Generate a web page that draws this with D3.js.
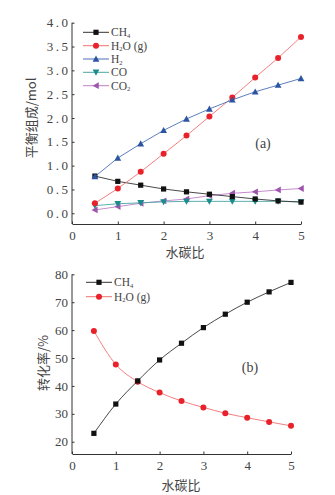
<!DOCTYPE html>
<html><head><meta charset="utf-8">
<script src="https://cdn.jsdelivr.net/npm/d3@7"></script>
<style>
body{margin:0;background:#fff;}
svg{display:block;}
</style></head>
<body>
<svg id="c" width="335" height="495"></svg>
<script>
// ---- data ----
const ratios = [0.5,1,1.5,2,2.5,3,3.5,4,4.5,5];
const aCH4 = [0.78,0.67,0.59,0.51,0.45,0.40,0.35,0.30,0.26,0.235];
const aH2O = [0.21,0.52,0.87,1.25,1.63,2.03,2.43,2.85,3.26,3.70];
const aH2  = [0.77,1.16,1.46,1.74,1.98,2.19,2.38,2.55,2.69,2.83];
const aCO  = [0.16,0.20,0.22,0.24,0.25,0.25,0.25,0.25,0.25,0.24];
const aCO2 = [0.07,0.14,0.21,0.26,0.30,0.37,0.42,0.45,0.49,0.52];
const bCH4 = [23.0,33.5,41.8,49.3,55.3,60.9,65.7,70.0,73.7,77.1];
const bH2O = [59.7,47.7,41.5,37.6,34.6,32.3,30.2,28.6,27.1,25.7];
const xTicks = [0,1,2,3,4,5];
const aYTicks = [0,0.5,1,1.5,2,2.5,3,3.5,4];
const bYTicks = [20,30,40,50,60,70,80];

const svg = d3.select("#c");
const numFont = "'Liberation Serif','DejaVu Serif',serif";
const cjkFont = "'Noto Sans CJK SC',sans-serif";
const axisColor = "#333";

function drawAxes(x, y, yTicks, fmt, spacing){
  const gx = svg.append("g").attr("transform", `translate(0,${y.range()[0]})`)
    .call(d3.axisBottom(x).tickValues(xTicks).tickSizeInner(-2.5).tickSizeOuter(0).tickPadding(7).tickFormat(d3.format("d")));
  const gy = svg.append("g").attr("transform", `translate(${x.range()[0]},0)`)
    .call(d3.axisLeft(y).tickValues(yTicks).tickSizeInner(-2.5).tickSizeOuter(0).tickPadding(4).tickFormat(fmt));
  gy.select(".domain").attr("d", `M0,${y.range()[0]}V${y(yTicks[yTicks.length-1])}`);
  [gx,gy].forEach(g=>{
    g.select(".domain").attr("stroke", axisColor).attr("stroke-width",1);
    g.selectAll(".tick line").attr("stroke", axisColor);
    g.selectAll("text").attr("font-family", numFont).attr("font-size", 13).attr("fill", "#444");
  });
  if (spacing) gy.selectAll("text").attr("letter-spacing", spacing).attr("dx", spacing);
}

function marker(g, type, cx, cy, color){
  if (type === "square") {
    g.append("rect").attr("x", cx-2.6).attr("y", cy-2.6).attr("width",5.2).attr("height",5.2).attr("fill",color);
  } else if (type === "circle") {
    g.append("circle").attr("cx",cx).attr("cy",cy).attr("r",3).attr("fill",color);
  } else {
    const s = 3.4;
    let pts;
    if (type === "up") pts = [[cx,cy-s],[cx+s,cy+s*0.8],[cx-s,cy+s*0.8]];
    else if (type === "down") pts = [[cx,cy+s],[cx+s,cy-s*0.8],[cx-s,cy-s*0.8]];
    else pts = [[cx-s,cy],[cx+s*0.8,cy-s],[cx+s*0.8,cy+s]];
    g.append("polygon").attr("points", pts.map(p=>p.join(",")).join(" ")).attr("fill",color);
  }
}

function drawSeries(x, y, vals, color, lineColor, type, curve){
  const g = svg.append("g");
  const line = d3.line().x((d,i)=>x(ratios[i])).y(d=>y(d)).curve(curve || d3.curveLinear);
  g.append("path").attr("d", line(vals)).attr("fill","none").attr("stroke", lineColor).attr("stroke-width",0.9);
  vals.forEach((v,i)=>marker(g, type, x(ratios[i]), y(v), color));
}

function legendItem(x0, y0, color, lineColor, type, parts){
  const g = svg.append("g");
  g.append("line").attr("x1",x0).attr("x2",x0+26).attr("y1",y0).attr("y2",y0).attr("stroke",lineColor).attr("stroke-width",1);
  marker(g, type, x0+13, y0, color);
  const t = g.append("text").attr("x", x0+28).attr("y", y0+4).attr("font-family", numFont).attr("font-size", 11.5).attr("fill","#444");
  parts.forEach(p=>{
    if (p.sub) t.append("tspan").attr("font-size",6.5).attr("dy",1.5).text(p.t);
    else t.append("tspan").attr("dy", p.up ? -1.5 : 0).text(p.t);
  });
}

// ---- chart (a) ----
const xa = d3.scaleLinear().domain([0,5]).range([72,301]);
const ya = d3.scaleLinear().domain([-0.225,4]).range([224,22.7]);
drawAxes(xa, ya, aYTicks, d3.format(".1f"), 2.5);

const cBlack="#111", cRed="#e8212b", cBlue="#2b55a3", cTeal="#1b8c8c", cPurple="#a055ad";
drawSeries(xa, ya, aCO2, cPurple, "#c080c8", "left");
drawSeries(xa, ya, aCO, cTeal, "#4aa6a6", "down");
drawSeries(xa, ya, aCH4, cBlack, "#333", "square");
drawSeries(xa, ya, aH2O, cRed, "#f07070", "circle");
drawSeries(xa, ya, aH2, cBlue, "#4a70b8", "up");

legendItem(83, 32.3, cBlack, "#333", "square", [{t:"CH"},{t:"4",sub:1}]);
legendItem(83, 45.7, cRed, "#f07070", "circle", [{t:"H"},{t:"2",sub:1},{t:"O (g)",up:1}]);
legendItem(83, 59, cBlue, "#4a70b8", "up", [{t:"H"},{t:"2",sub:1}]);
legendItem(83, 72.3, cTeal, "#4aa6a6", "down", [{t:"CO"}]);
legendItem(83, 85.7, cPurple, "#c080c8", "left", [{t:"CO"},{t:"2",sub:1}]);

svg.append("text").attr("x",263).attr("y",148).attr("text-anchor","middle")
  .attr("font-family",numFont).attr("font-size",14).attr("fill","#444").text("(a)");
svg.append("text").attr("transform","translate(36,118) rotate(-90)").attr("text-anchor","middle")
  .attr("font-family",cjkFont).attr("font-size",13).attr("fill","#444").text("平衡组成/mol");
svg.append("text").attr("x",185).attr("y",257).attr("text-anchor","middle")
  .attr("font-family",cjkFont).attr("font-size",13).attr("fill","#444").text("水碳比");

// ---- chart (b) ----
const xb = d3.scaleLinear().domain([0,5]).range([72,291]);
const yb = d3.scaleLinear().domain([15.6,80]).range([454,274.3]);
drawAxes(xb, yb, bYTicks, d3.format("d"), 0);

drawSeries(xb, yb, bH2O, cRed, "#f07070", "circle", d3.curveMonotoneX);
drawSeries(xb, yb, bCH4, cBlack, "#333", "square", d3.curveMonotoneX);

legendItem(86, 282.3, cBlack, "#333", "square", [{t:"CH"},{t:"4",sub:1}]);
legendItem(86, 296.7, cRed, "#f07070", "circle", [{t:"H"},{t:"2",sub:1},{t:"O (g)",up:1}]);

svg.append("text").attr("x",250).attr("y",372).attr("text-anchor","middle")
  .attr("font-family",numFont).attr("font-size",14).attr("fill","#444").text("(b)");
svg.append("text").attr("transform","translate(48,363) rotate(-90)").attr("text-anchor","middle")
  .attr("font-family",cjkFont).attr("font-size",13).attr("fill","#444").text("转化率/%");
svg.append("text").attr("x",181).attr("y",490).attr("text-anchor","middle")
  .attr("font-family",cjkFont).attr("font-size",13).attr("fill","#444").text("水碳比");
</script>
</body></html>
